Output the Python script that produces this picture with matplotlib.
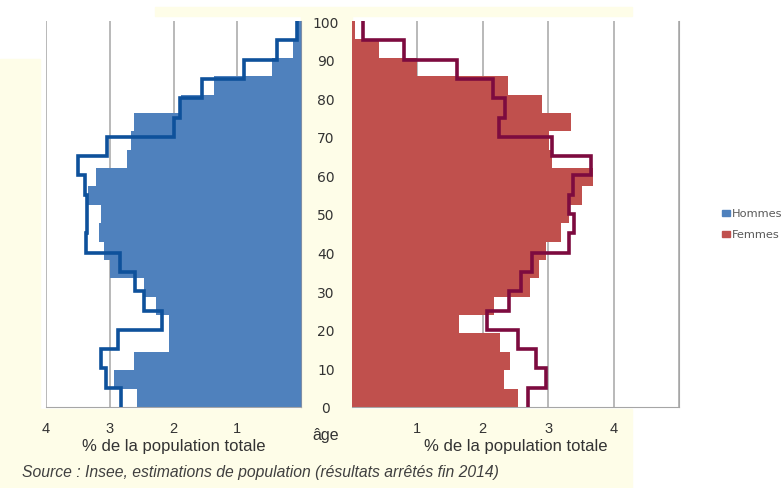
import matplotlib.pyplot as plt
from matplotlib.patches import Rectangle

# bars: 21 age groups (0-4 ... 95-99, 100+), share of total population (%)
hommes_barres = [2.58, 2.93, 2.62, 2.07, 2.07, 2.28, 2.46, 3.00, 3.09, 3.17, 3.14,
                 3.34, 3.22, 2.73, 2.67, 2.62, 1.89, 1.37, 0.46, 0.12, 0.05]
femmes_barres = [2.54, 2.33, 2.41, 2.27, 1.64, 2.17, 2.72, 2.86, 2.96, 3.19, 3.32,
                 3.52, 3.68, 3.06, 3.01, 3.35, 2.91, 2.38, 0.99, 0.41, 0.05]

# outline: 5-year age groups 0-5 ... 95-100
ages_bornes = list(range(0, 101, 5))
hommes_ligne = [2.83, 3.06, 3.14, 2.87, 2.18, 2.47, 2.60, 2.84, 3.37, 3.36,
                3.36, 3.39, 3.50, 3.04, 2.00, 1.90, 1.55, 0.89, 0.37, 0.07]
femmes_ligne = [2.69, 2.97, 2.82, 2.54, 2.07, 2.40, 2.59, 2.75, 3.32, 3.40,
                3.32, 3.38, 3.65, 3.06, 2.25, 2.34, 2.15, 1.61, 0.80, 0.17]

age_ticks = list(range(0, 101, 10))
gauche_ticks = [4, 3, 2, 1]
droite_ticks = [1, 2, 3, 4]

bleu = '#4f81bd'
rouge = '#c0504d'
bleu_ligne = '#0e519b'
rouge_ligne = '#7d0b3f'
jaune = '#fefde8'
gris = '#a6a6a6'

W, H = 784, 489
fig = plt.figure(figsize=(W / 100, H / 100), dpi=100)
fig.patch.set_facecolor('white')

def fond(x0, y0, x1, y1):
    # rectangle in pixel coords measured from the top-left corner
    fig.patches.append(Rectangle((x0 / W, 1 - y1 / H), (x1 - x0) / W, (y1 - y0) / H,
                                 transform=fig.transFigure, color=jaune, zorder=-10))

fond(0, 60, 40, 410)
fond(155, 8, 632, 17)
fond(301, 17, 352, 410)
fond(0, 410, 632, 489)

bas = (489 - 408) / H
haut = 386 / H
ax_g = fig.add_axes([46 / W, bas, 255 / W, haut])
ax_d = fig.add_axes([352 / W, bas, 327 / W, haut])

n = len(hommes_barres)
pas = 100 / n
centres = [(i + 0.5) * pas for i in range(n)]

ax_g.barh(centres, hommes_barres, height=pas, color=bleu, zorder=2)
ax_g.stairs(hommes_ligne, ages_bornes, orientation='horizontal', baseline=None,
            color=bleu_ligne, lw=2.6, zorder=3)
ax_d.barh(centres, femmes_barres, height=pas, color=rouge, zorder=2)
ax_d.stairs(femmes_ligne, ages_bornes, orientation='horizontal', baseline=None,
            color=rouge_ligne, lw=2.6, zorder=3)

ax_g.set_xlim(4, 0)
ax_d.set_xlim(0, 5)
for ax in (ax_g, ax_d):
    ax.set_ylim(0, 100)
    ax.grid(axis='x', color=gris, lw=1.1, zorder=0)
    for s in ax.spines.values():
        s.set_visible(False)
    ax.spines['bottom'].set_visible(True)
    ax.spines['bottom'].set_color(gris)
    ax.tick_params(axis='x', length=0, labelsize=10.5, pad=10, labelcolor='#333333')

ax_g.spines['right'].set_visible(True)
ax_g.spines['right'].set_color('#7f8fa6')
ax_d.spines['right'].set_visible(True)
ax_d.spines['right'].set_color(gris)
ax_g.set_xticks(gauche_ticks)
ax_d.set_xticks(droite_ticks + [5])
ax_d.set_xticklabels([str(t) for t in droite_ticks] + [''])

ax_g.yaxis.tick_right()
ax_g.set_yticks(age_ticks)
ax_g.tick_params(axis='y', length=0, labelsize=10, pad=18, labelcolor='#333333')
for lab in ax_g.get_yticklabels():
    lab.set_ha('center')
ax_d.set_yticks([])

for ax in (ax_g, ax_d):
    ax.set_xlabel('% de la population totale', fontsize=12, family='Liberation Sans',
                  color='#333333', labelpad=2)
    for lab in ax.get_xticklabels():
        lab.set_family('Liberation Sans')

fig.text(326 / W, 1 - 436 / H, 'âge', ha='center', va='center', fontsize=11.5,
         family='Liberation Sans', color='#333333')
fig.text(22 / W, 1 - 472 / H,
         'Source : Insee, estimations de population (résultats arrêtés fin 2014)',
         ha='left', va='center', fontsize=11.3, style='italic',
         family='Liberation Sans', color='#404040')

# legend at the right edge
for y, c, t in ((214, bleu, 'Hommes'), (235, rouge, 'Femmes')):
    fig.patches.append(Rectangle((722 / W, 1 - (y + 3) / H), 8 / W, 6 / H,
                                 transform=fig.transFigure, color=c))
    fig.text(732 / W, 1 - y / H, t, ha='left', va='center', fontsize=8.2,
             color='#595959')

fig.savefig('out.png', dpi=100)
